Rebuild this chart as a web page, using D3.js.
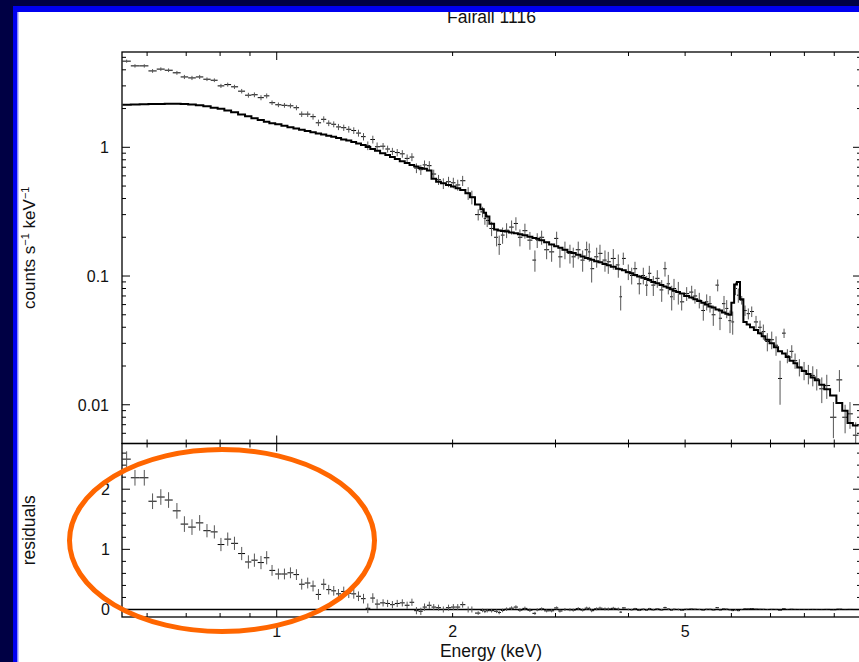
<!DOCTYPE html>
<html><head><meta charset="utf-8">
<script src="https://cdn.jsdelivr.net/npm/d3@7"></script>
<style>
html,body{margin:0;padding:0;background:#fff;overflow:hidden}
svg{display:block}
text{font-family:"Liberation Sans",Arial,Helvetica,sans-serif;fill:#111}
</style></head><body>
<svg id="chart" width="859" height="662"></svg>
<script>
// ---- data ----
const title = "Fairall 1116";
// bin centre energies, keV
const energy = [
 0.5535,0.5720,0.5934,0.6131,0.6334,0.6530,0.6748,0.6950,0.7161,0.7381,
 0.7597,0.7821,0.8027,0.8245,0.8466,0.8711,0.8944,0.9158,0.9399,0.9613,
 0.9817,1.0067,1.0309,1.0556,1.0808,1.1035,1.1299,1.1539,1.1787,1.2036,
 1.2275,1.2520,1.2755,1.3023,1.3284,1.3548,1.3802,1.4078,1.4318,1.4604,
 1.4853,
 1.5207,1.5480,1.5776,1.6078,1.6405,1.6718,1.7038,1.7343,1.7646,1.7905,
 1.8247,1.8566,1.8921,1.9283,1.9682,2.0058,2.0409,2.0807,2.1263,2.1577,
 2.2122,2.2509,2.2714,2.2921,2.3322,2.3786,2.4031,2.4355,2.4743,2.5235,
 2.5667,2.6075,2.6594,2.7124,2.7664,2.7916,2.8405,2.8971,2.9548,3.0137,
 3.0531,3.1139,3.1759,3.2175,3.2815,3.3390,3.3921,3.4271,3.4597,3.5286,
 3.5748,3.6460,3.6937,3.7673,3.8423,3.8789,3.9188,3.9969,4.0508,4.1038,
 4.1740,4.2404,4.2976,4.3418,4.4108,4.4810,4.5594,4.6191,4.6796,4.7428,
 4.7860,4.8679,
 4.9327,5.0308,5.1310,5.1982,5.2872,5.3713,5.4437,5.5150,5.5872,5.6849,
 5.7367,5.8281,5.8905,5.9676,6.0316,6.0985,6.1663,6.2496,6.3314,6.4143,
 6.5009,6.6121,6.7172,6.8052,6.9133,7.0345,7.1548,7.2687,7.3843,7.4810,
 7.6120,7.7117,7.8434,7.9901,8.1267,8.2690,8.4005,8.5680,8.7388,8.9694,
 9.1839,9.3927,9.5755,9.7932
];
// observed rate, counts s^-1 keV^-1
const rate = [
 4.67,4.29,4.29,3.92,4.05,3.97,3.79,3.52,3.46,3.52,
 3.38,3.32,3.00,3.07,2.95,2.73,2.54,2.56,2.43,2.51,
 2.22,2.14,2.12,2.10,2.03,1.81,1.81,1.73,1.55,1.65,
 1.54,1.51,1.44,1.42,1.38,1.35,1.29,1.21,1.03,1.15,
 1.01,
 1.02,0.97,0.93,0.91,0.89,0.82,0.84,0.69,0.67,0.73,
 0.72,0.62,0.56,0.524,0.54,0.53,0.51,0.55,0.44,0.41,
 0.30,0.315,0.28,0.27,0.234,0.20,0.176,0.208,0.227,0.24,
 0.256,0.20,0.225,0.19,0.133,0.19,0.20,0.16,0.154,0.196,
 0.141,0.16,0.15,0.141,0.16,0.133,0.16,0.154,0.114,0.141,
 0.15,0.133,0.129,0.137,0.122,0.069,0.137,0.108,0.101,0.114,
 0.087,0.101,0.085,0.105,0.085,0.096,0.078,0.114,0.087,0.069,
 0.080,0.075,
 0.063,0.073,0.075,0.070,0.065,0.054,0.063,0.061,0.050,0.085,
 0.047,0.061,0.056,0.045,0.044,0.080,0.071,0.065,0.054,0.051,
 0.053,0.044,0.040,0.037,0.031,0.032,0.029,0.016,0.036,0.024,
 0.026,0.022,0.0196,0.0185,0.0174,0.0169,0.0159,0.0133,0.0141,0.0080,
 0.0156,0.0080,0.0085,0.0058
];
// 1-sigma error, same units (also used for the residuals)
const rateErr = [
 0.13,0.13,0.13,0.13,0.13,0.13,0.13,0.13,0.13,0.13,
 0.11,0.11,0.11,0.11,0.11,0.11,0.11,0.11,0.11,0.11,
 0.09,0.09,0.09,0.09,0.09,0.09,0.09,0.09,0.09,0.09,
 0.08,0.08,0.08,0.08,0.08,0.08,0.08,0.08,0.08,0.08,
 0.08,
 0.06,0.06,0.06,0.06,0.06,0.06,0.06,0.06,0.06,0.06,
 0.06,0.05,0.05,0.05,0.05,0.05,0.05,0.05,0.05,0.05,
 0.03,0.03,0.03,0.03,0.03,0.03,0.03,0.03,0.03,0.03,
 0.03,0.03,0.03,0.03,0.025,0.025,0.025,0.025,0.025,0.025,
 0.025,0.025,0.025,0.025,0.025,0.025,0.025,0.025,0.025,0.025,
 0.025,0.025,0.025,0.025,0.025,0.015,0.015,0.015,0.015,0.015,
 0.015,0.015,0.015,0.015,0.015,0.015,0.015,0.015,0.015,0.015,
 0.015,0.015,
 0.009,0.009,0.009,0.009,0.009,0.009,0.009,0.009,0.009,0.009,
 0.009,0.009,0.009,0.009,0.009,0.009,0.009,0.005,0.005,0.005,
 0.005,0.005,0.005,0.005,0.005,0.005,0.005,0.006,0.003,0.003,
 0.003,0.003,0.003,0.003,0.003,0.003,0.003,0.003,0.003,0.0025,
 0.003,0.002,0.002,0.0015
];
// folded model, counts s^-1 keV^-1
const model = [
 2.14,2.15,2.16,2.17,2.17,2.18,2.18,2.17,2.15,2.12,
 2.08,2.03,1.99,1.93,1.87,1.80,1.74,1.68,1.63,1.58,
 1.54,1.51,1.47,1.43,1.40,1.37,1.34,1.31,1.28,1.26,
 1.23,1.21,1.18,1.15,1.13,1.10,1.07,1.04,1.005,0.97,
 0.94,
 0.90,0.87,0.84,0.81,0.78,0.755,0.73,0.71,0.69,0.68,
 0.66,0.57,0.54,0.525,0.51,0.495,0.48,0.465,0.44,0.41,
 0.36,0.33,0.31,0.29,0.255,0.23,0.226,0.224,0.222,0.218,
 0.215,0.211,0.207,0.202,0.197,0.195,0.19,0.183,0.176,0.170,
 0.166,0.160,0.154,0.151,0.146,0.142,0.138,0.136,0.134,0.130,
 0.128,0.124,0.121,0.118,0.114,0.113,0.111,0.107,0.105,0.102,
 0.099,0.097,0.095,0.093,0.090,0.088,0.085,0.083,0.081,0.079,
 0.077,0.075,
 0.073,0.070,0.068,0.066,0.064,0.062,0.060,0.058,0.057,0.055,
 0.054,0.052,0.051,0.050,0.062,0.086,0.090,0.066,0.044,0.042,
 0.040,0.038,0.036,0.034,0.032,0.030,0.028,0.026,0.025,0.0235,
 0.022,0.021,0.0195,0.0183,0.0173,0.0163,0.0155,0.0143,0.0132,0.0118,
 0.0103,0.0090,0.0072,0.0069
];
// residuals (data - model)
const resid = [
 2.50,2.19,2.19,1.80,1.87,1.82,1.64,1.42,1.37,1.44,
 1.31,1.29,1.08,1.17,1.10,0.93,0.79,0.82,0.78,0.86,
 0.65,0.59,0.59,0.61,0.58,0.42,0.44,0.39,0.25,0.42,
 0.33,0.31,0.26,0.30,0.27,0.26,0.22,0.18,0.02,0.19,
 0.09,
 0.11,0.10,0.08,0.10,0.11,0.07,0.12,-0.02,-0.03,0.04,
 0.07,0.04,0.03,0.00,0.03,0.04,0.04,0.08,0.00,0.00,
 -0.06,-0.015,-0.03,-0.02,-0.02,-0.03,-0.05,-0.016,0.005,0.022,
 0.04,-0.01,0.018,-0.012,-0.064,-0.005,0.01,-0.023,-0.022,0.026,
 -0.025,0,-0.004,-0.01,0.014,-0.009,0.022,0.018,-0.02,0.011,
 0.022,0.009,0.008,0.019,0.008,-0.044,0.026,0.001,-0.004,0.012,
 -0.012,0.004,-0.01,0.012,-0.005,0.008,-0.007,0.031,0.006,-0.01,
 0.003,0,
 -0.01,0.003,0.007,0.004,0.001,-0.008,0.003,0.003,-0.007,0.03,
 -0.007,0.009,0.005,-0.005,-0.018,-0.006,-0.019,-0.001,0.01,0.009,
 0.013,0.006,0.004,0.003,-0.001,0.002,0.001,-0.01,0.011,0,
 0.004,0.001,0,0,0,0.001,0,-0.001,0.001,-0.004,
 0.005,-0.001,0.001,-0.001
];
const xTickLabels = [1, 2, 5];
const yTickLabels = [0.01, 0.1, 1];
const residTickLabels = [0, 1, 2];
const xDomain = [0.5435, 10];
const yDomain = [0.005, 5.5];
const residDomain = [-0.125, 2.76];

// ---- layout ----
const L = 122, R = 861, T = 52, MID = 443.5, B = 617;
const svg = d3.select('#chart');
svg.append('rect').attr('width', 859).attr('height', 662).attr('fill', '#fff');

const x = d3.scaleLog().domain(xDomain).range([L, R]);
const y = d3.scaleLog().domain(yDomain).range([MID, T]);
const yr = d3.scaleLinear().domain(residDomain).range([B, MID]);

// bin edges (geometric midpoints between neighbouring centres)
const n = energy.length;
const lo = [], hi = [];
for (let i = 0; i < n; i++) {
  const h = i < n - 1 ? Math.sqrt(energy[i] * energy[i + 1]) : null;
  const l = i > 0 ? Math.sqrt(energy[i - 1] * energy[i]) : null;
  lo.push(l); hi.push(h);
}
lo[0] = energy[0] * energy[0] / hi[0];
hi[n - 1] = energy[n - 1] * energy[n - 1] / lo[n - 1];
const bins = energy.map((e, i) => ({e, lo: lo[i], hi: hi[i], r: rate[i], err: rateErr[i], m: model[i], d: resid[i]}));

const defs = svg.append('defs');
defs.append('clipPath').attr('id', 'cu').append('rect').attr('x', L).attr('y', T).attr('width', R - L).attr('height', MID - T);
defs.append('clipPath').attr('id', 'cl').append('rect').attr('x', L).attr('y', MID).attr('width', R - L).attr('height', B - MID);

// upper panel data
const gu = svg.append('g').attr('clip-path', 'url(#cu)');
gu.selectAll('line.h').data(bins).join('line').attr('class', 'h')
  .attr('x1', d => x(d.lo)).attr('x2', d => x(d.hi))
  .attr('y1', d => y(d.r)).attr('y2', d => y(d.r))
  .attr('stroke', '#000').attr('stroke-width', 1);
gu.selectAll('line.v').data(bins).join('line').attr('class', 'v')
  .attr('x1', d => x(d.e)).attr('x2', d => x(d.e))
  .attr('y1', d => y(Math.max(d.r - d.err, 1e-4))).attr('y2', d => y(d.r + d.err))
  .attr('stroke', '#555').attr('stroke-width', 1);
// model histogram
const stepPts = [];
bins.forEach(d => { stepPts.push([d.lo, d.m]); stepPts.push([d.hi, d.m]); });
gu.append('path').attr('d', d3.line().x(p => x(p[0])).y(p => y(p[1]))(stepPts))
  .attr('fill', 'none').attr('stroke', '#000').attr('stroke-width', 2);

// lower panel
const gl = svg.append('g').attr('clip-path', 'url(#cl)');
gl.append('line').attr('x1', L).attr('x2', R).attr('y1', yr(0)).attr('y2', yr(0))
  .attr('stroke', '#000').attr('stroke-width', 1.6);
gl.selectAll('line.h').data(bins).join('line').attr('class', 'h')
  .attr('x1', d => x(d.lo)).attr('x2', d => x(d.hi))
  .attr('y1', d => yr(d.d)).attr('y2', d => yr(d.d))
  .attr('stroke', '#000').attr('stroke-width', 1);
gl.selectAll('line.v').data(bins).join('line').attr('class', 'v')
  .attr('x1', d => x(d.e)).attr('x2', d => x(d.e))
  .attr('y1', d => yr(d.d - d.err)).attr('y2', d => yr(d.d + d.err))
  .attr('stroke', '#555').attr('stroke-width', 1);

// frames
const gf = svg.append('g').attr('fill', 'none').attr('stroke', '#000').attr('stroke-width', 1.3);
gf.append('rect').attr('x', L).attr('y', T).attr('width', R - L).attr('height', MID - T);
gf.append('rect').attr('x', L).attr('y', MID).attr('width', R - L).attr('height', B - MID);

// ticks
const gt = svg.append('g').attr('stroke', '#000').attr('stroke-width', 1);
const isDecade = v => Math.abs(Math.log10(v) - Math.round(Math.log10(v))) < 1e-6;
x.ticks().forEach(t => {
  const len = isDecade(t) ? 8 : 4, px = x(t);
  [[T, 1], [MID, -1], [MID, 1], [B, -1]].forEach(([yy, dir]) => {
    gt.append('line').attr('x1', px).attr('x2', px).attr('y1', yy).attr('y2', yy + dir * len);
  });
});
y.ticks().forEach(t => {
  const len = isDecade(t) ? 8 : 4, py = y(t);
  gt.append('line').attr('x1', L).attr('x2', L + len).attr('y1', py).attr('y2', py);
  gt.append('line').attr('x1', R).attr('x2', R - len).attr('y1', py).attr('y2', py);
});
d3.range(0, 2.7, 0.2).forEach(t => {
  const maj = Math.abs(t - Math.round(t)) < 1e-6, len = maj ? 8 : 4, py = yr(t);
  gt.append('line').attr('x1', L).attr('x2', L + len).attr('y1', py).attr('y2', py);
  gt.append('line').attr('x1', R).attr('x2', R - len).attr('y1', py).attr('y2', py);
});

// tick labels
const gtl = svg.append('g').attr('font-size', 16);
yTickLabels.forEach(v => gtl.append('text').attr('x', 109).attr('y', y(v) + 6).attr('text-anchor', 'end').text(String(v)));
residTickLabels.forEach(v => gtl.append('text').attr('x', 110).attr('y', yr(v) + 6).attr('text-anchor', 'end').text(String(v)));
xTickLabels.forEach(v => gtl.append('text').attr('x', x(v)).attr('y', 637).attr('text-anchor', 'middle').text(String(v)));

// axis titles
svg.append('text').attr('x', (L + R) / 2 - 0.5).attr('y', 657).attr('text-anchor', 'middle').attr('font-size', 17.5).text('Energy (keV)');
const yl = svg.append('text').attr('transform', `translate(35,${(T + MID) / 2}) rotate(-90)`).attr('text-anchor', 'middle').attr('font-size', 17);
yl.append('tspan').text('counts s');
yl.append('tspan').attr('font-size', 11).attr('dy', -6).text('\u22121');
yl.append('tspan').attr('dy', 6).text(' keV');
yl.append('tspan').attr('font-size', 11).attr('dy', -6).text('\u22121');
svg.append('text').attr('transform', `translate(35,${(MID + B) / 2}) rotate(-90)`).attr('text-anchor', 'middle').attr('font-size', 17.5).text('residuals');
svg.append('text').attr('x', (L + R) / 2).attr('y', 23).attr('text-anchor', 'middle').attr('font-size', 17.5).text(title);

// orange highlight ellipse
svg.append('ellipse').attr('cx', 222).attr('cy', 540.5).attr('rx', 152.5).attr('ry', 91)
  .attr('fill', 'none').attr('stroke', '#ff6600').attr('stroke-width', 5);

// slide border
svg.append('rect').attr('x', 0).attr('y', 0).attr('width', 859).attr('height', 6).attr('fill', '#000044');
svg.append('rect').attr('x', 0).attr('y', 0).attr('width', 13).attr('height', 662).attr('fill', '#000044');
svg.append('rect').attr('x', 13).attr('y', 6).attr('width', 846).attr('height', 6).attr('fill', '#0000f0');
svg.append('rect').attr('x', 13).attr('y', 6).attr('width', 4.5).attr('height', 656).attr('fill', '#0000f0');
svg.append('rect').attr('x', 17.5).attr('y', 12).attr('width', 1).attr('height', 650).attr('fill', '#9090ff');
</script>
</body></html>
